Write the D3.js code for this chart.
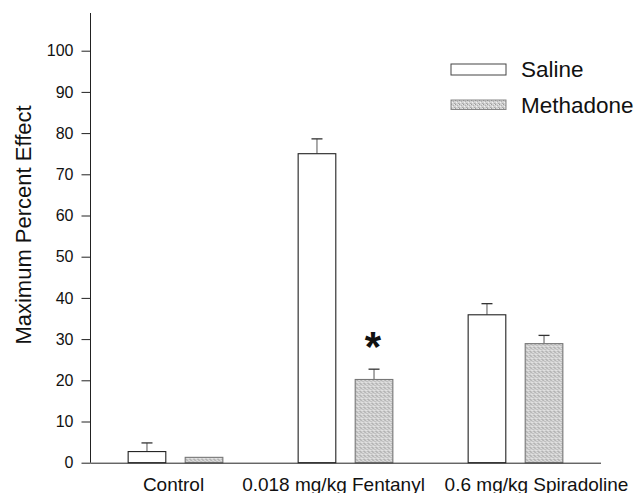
<!DOCTYPE html>
<html>
<head>
<meta charset="utf-8">
<script src="https://cdn.jsdelivr.net/npm/d3@7"></script>
<style>
  body { margin: 0; background: #fff; }
  text { font-family: "Liberation Sans", Arial, sans-serif; fill: #111; }
</style>
</head>
<body>
<svg id="chart" width="642" height="493"></svg>
<script>
const groups = ["Control", "0.018 mg/kg Fentanyl", "0.6 mg/kg Spiradoline"];
const series = ["Saline", "Methadone"];
const salineMean = [2.7, 75.0, 35.9];
const salineErr = [2.1, 3.6, 2.7];
const methadoneMean = [1.3, 20.2, 28.9];
const methadoneErr = [0, 2.5, 2.0];
const yTicks = [0, 10, 20, 30, 40, 50, 60, 70, 80, 90, 100];
const significant = [false, true, false];

const svg = d3.select("#chart");
const labelShift = [-2, -12, 21];

const x0 = d3.scaleBand().domain(groups).range([90.5, 600.5]).paddingInner(0).paddingOuter(0);
const x1 = d3.scaleBand().domain(series).range([0, x0.bandwidth()]).paddingInner(0.34).paddingOuter(0.66);
const y = d3.scaleLinear().domain([0, 100]).range([462.7, 50.7]);

// stipple fill
const defs = svg.append("defs");
const pat = defs.append("pattern").attr("id", "stip").attr("patternUnits", "userSpaceOnUse")
  .attr("width", 4).attr("height", 4);
pat.append("rect").attr("width", 4).attr("height", 4).attr("fill", "#d2d2d2");
[[0, 0, "#9a9a9a"], [2, 1, "#b0b0b0"], [1, 2, "#f0f0f0"], [3, 3, "#a8a8a8"], [3, 0, "#e8e8e8"], [0, 3, "#bdbdbd"]]
  .forEach(p => pat.append("rect").attr("x", p[0]).attr("y", p[1]).attr("width", 1).attr("height", 1).attr("fill", p[2]));

const rows = groups.map((g, i) => ({
  group: g, i: i,
  values: [
    { key: "Saline", v: salineMean[i], e: salineErr[i] },
    { key: "Methadone", v: methadoneMean[i], e: methadoneErr[i] }
  ]
}));

const gBars = svg.append("g").selectAll("g").data(rows).enter().append("g")
  .attr("transform", d => `translate(${x0(d.group)},0)`);

gBars.selectAll("line.err").data(d => d.values.filter(v => v.e > 0)).enter().append("line")
  .attr("x1", d => x1(d.key) + x1.bandwidth() / 2)
  .attr("x2", d => x1(d.key) + x1.bandwidth() / 2)
  .attr("y1", d => y(d.v)).attr("y2", d => y(d.v + d.e))
  .attr("stroke", "#555").attr("stroke-width", 1);
gBars.selectAll("line.cap").data(d => d.values.filter(v => v.e > 0)).enter().append("line")
  .attr("x1", d => x1(d.key) + x1.bandwidth() / 2 - 5.5)
  .attr("x2", d => x1(d.key) + x1.bandwidth() / 2 + 5.5)
  .attr("y1", d => y(d.v + d.e)).attr("y2", d => y(d.v + d.e))
  .attr("stroke", "#333").attr("stroke-width", 1.3);

gBars.selectAll("rect").data(d => d.values).enter().append("rect")
  .attr("x", d => x1(d.key))
  .attr("width", x1.bandwidth())
  .attr("y", d => y(d.v))
  .attr("height", d => y(0) - y(d.v))
  .attr("fill", d => d.key === "Saline" ? "#fff" : "url(#stip)")
  .attr("stroke", d => d.key === "Saline" ? "#222" : "#777")
  .attr("stroke-width", 1.1);

// significance star
gBars.filter(d => significant[d.i]).append("text")
  .attr("x", x1("Methadone") + x1.bandwidth() / 2 - 1)
  .attr("y", d => y(d.values[1].v + d.values[1].e) - 8)
  .attr("text-anchor", "middle")
  .style("font-size", "42px").style("font-weight", "bold")
  .text("*");

// y axis
const yAxis = svg.append("g").attr("transform", "translate(90.5,0)")
  .call(d3.axisLeft(y).tickValues(yTicks).tickSize(9).tickPadding(8));
yAxis.select(".domain").remove();
yAxis.append("line").attr("x1", 0).attr("x2", 0).attr("y1", 13).attr("y2", y(0))
  .attr("stroke", "#222");
yAxis.selectAll(".tick line").attr("stroke", "#222");
yAxis.selectAll(".tick text").style("font-size", "16px").style("font-family", "Liberation Sans, Arial, sans-serif").attr("fill", "#111");

// x axis
const xAxis = svg.append("g").attr("transform", `translate(0,${y(0)})`)
  .call(d3.axisBottom(x0).tickSize(0).tickPadding(15));
xAxis.select(".domain").attr("stroke", "#222").attr("d", "M90.5,0.5H601");
xAxis.selectAll(".tick text")
  .style("font-size", "19px").style("font-family", "Liberation Sans, Arial, sans-serif").attr("fill", "#111")
  .attr("dx", (d, i) => labelShift[i]);

// y title
svg.append("text")
  .attr("transform", "translate(31,225) rotate(-90)")
  .attr("text-anchor", "middle")
  .style("font-size", "22px")
  .text("Maximum Percent Effect");

// legend
const legend = svg.append("g").selectAll("g").data(series).enter().append("g")
  .attr("transform", (d, i) => `translate(451,${64 + i * 36})`);
legend.append("rect")
  .attr("width", 55).attr("height", (d, i) => i === 0 ? 11 : 9.5)
  .attr("fill", d => d === "Saline" ? "#fff" : "url(#stip)")
  .attr("stroke", d => d === "Saline" ? "#444" : "#888");
legend.append("text")
  .attr("x", 70).attr("y", 13)
  .style("font-size", "22.5px")
  .text(d => d);
</script>
</body>
</html>
